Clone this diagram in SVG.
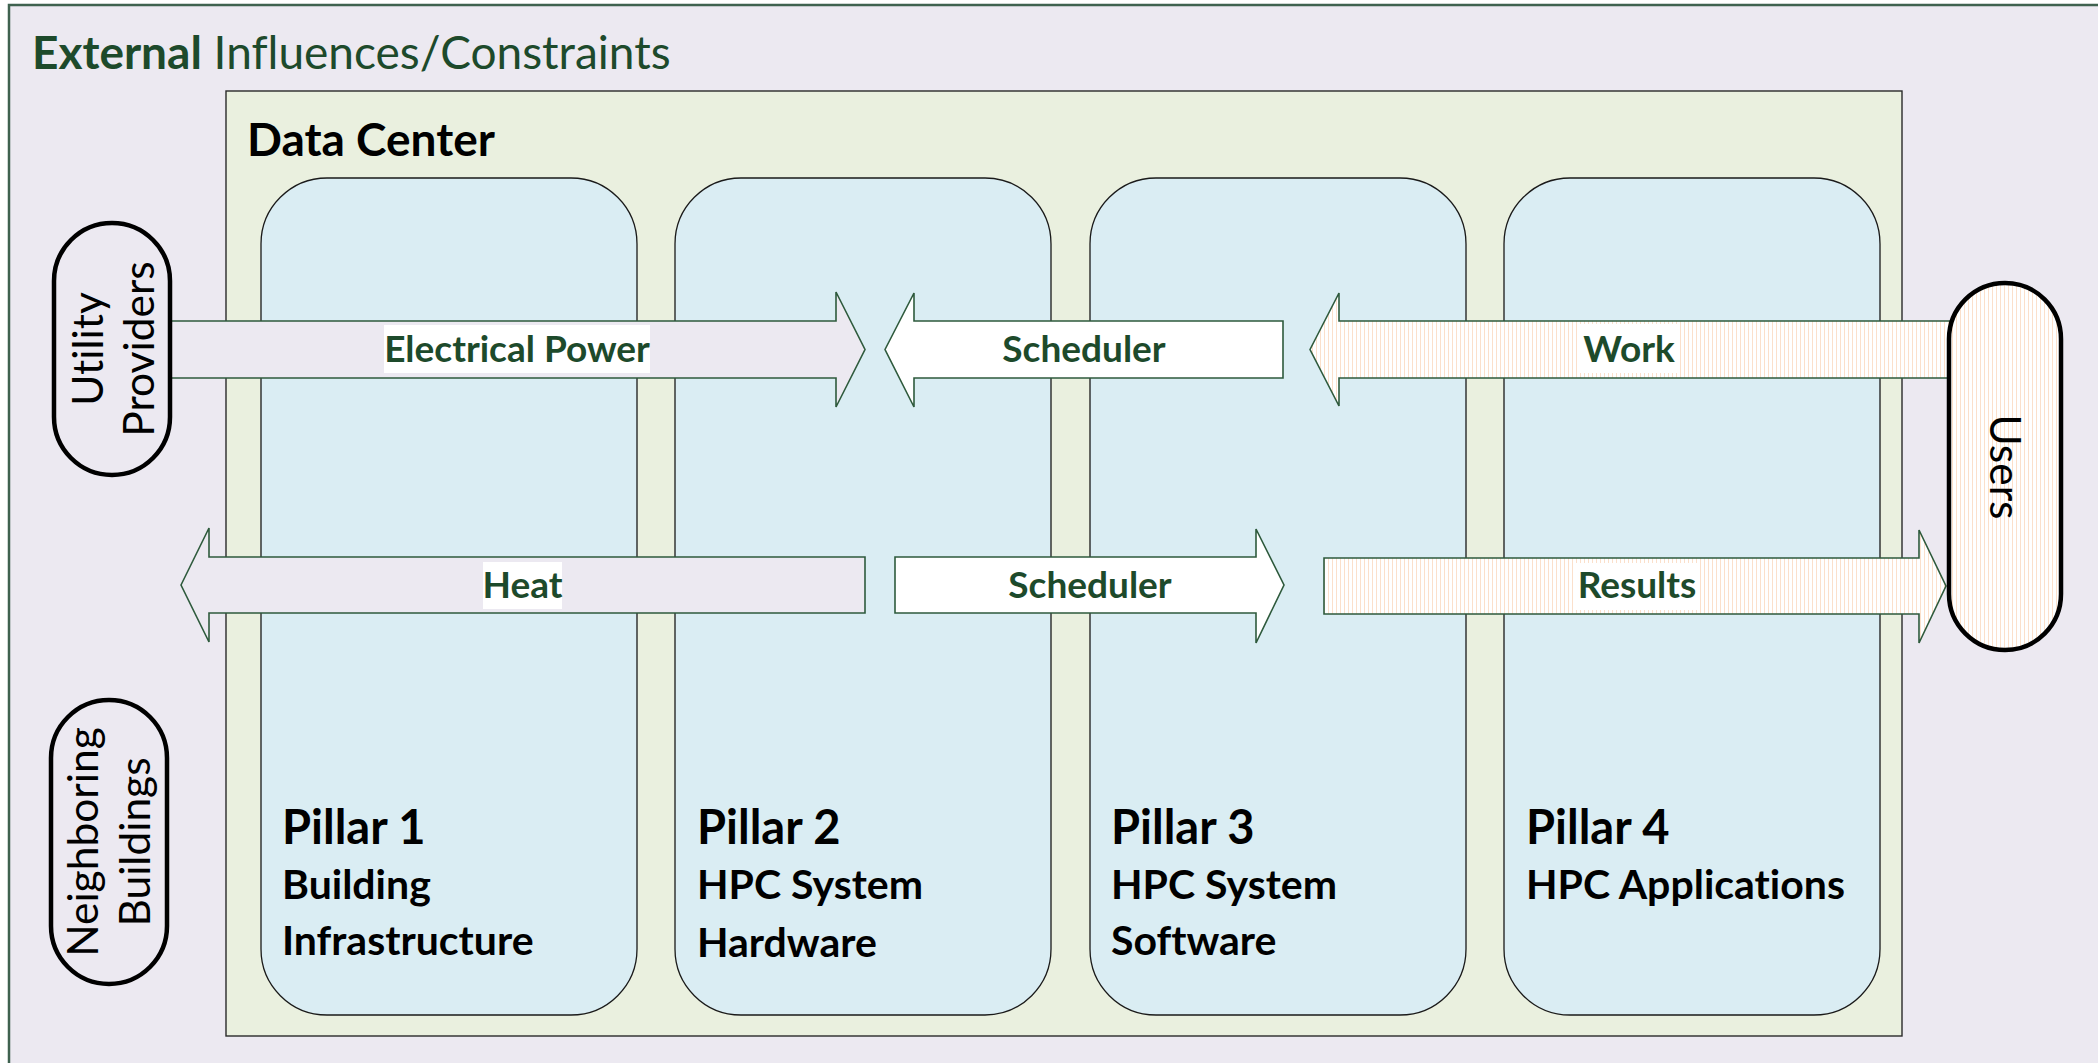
<svg xmlns="http://www.w3.org/2000/svg" width="2098" height="1063" viewBox="0 0 2098 1063">
  <defs>
    <pattern id="hatch" width="4" height="4" patternUnits="userSpaceOnUse">
      <rect width="4" height="4" fill="#ffffff"/>
      <rect x="0" y="0" width="1" height="4" fill="#FBE0CB"/>
    </pattern>
    <style>
      text { font-variant-ligatures: none; }
      .pillar { fill: #DAEDF3; stroke: #1a1a1a; stroke-width: 1.3; }
      .arrow { stroke: #2E5A3C; stroke-width: 1.6; stroke-linejoin: miter; }
      .lav { fill: #ECE9F1; }
      .white { fill: #ffffff; }
      .hatched { fill: url(#hatch); }
      .lbl { font-family: Lato, "Liberation Sans", sans-serif; font-weight: bold; font-size: 37px; fill: #1D4A2B; text-anchor: middle; }
      .ptitle { font-family: Lato, "Liberation Sans", sans-serif; font-weight: bold; font-size: 47px; fill: #000; }
      .psub { font-family: Lato, "Liberation Sans", sans-serif; font-weight: bold; font-size: 41px; fill: #000; }
      .pill { stroke: #000; stroke-width: 4.5; }
      .ptext { font-family: Lato, "Liberation Sans", sans-serif; font-size: 42.5px; fill: #000; text-anchor: middle; }
    </style>
  </defs>

  <rect x="0" y="0" width="2098" height="1063" fill="#ffffff"/>
  <g id="external">
    <rect x="9" y="5" width="2110" height="1080" fill="#ECE9F1" stroke="#3F624F" stroke-width="2.5"/>
    <text x="32" y="69" font-family="Lato, 'Liberation Sans', sans-serif" font-size="46" fill="#1D4A2B"><tspan font-weight="bold">External</tspan> Influences/Constraints</text>
  </g>

  <g id="data-center">
    <rect x="226" y="91" width="1676" height="945" fill="#EAF0DF" stroke="#2a2a2a" stroke-width="1.4"/>
    <text x="247" y="156" font-family="Lato, 'Liberation Sans', sans-serif" font-weight="bold" font-size="46" fill="#000">Data Center</text>
  </g>

  <g id="pillar-1">
    <rect class="pillar" x="261" y="178" width="376" height="837" rx="66" ry="66"/>
    <text class="ptitle" x="282" y="844">Pillar 1</text>
    <text class="psub" x="282" y="899">Building</text>
    <text class="psub" x="282" y="955">Infrastructure</text>
  </g>
  <g id="pillar-2">
    <rect class="pillar" x="675" y="178" width="376" height="837" rx="66" ry="66"/>
    <text class="ptitle" x="697" y="844">Pillar 2</text>
    <text class="psub" x="697" y="899">HPC System</text>
    <text class="psub" x="697" y="957">Hardware</text>
  </g>
  <g id="pillar-3">
    <rect class="pillar" x="1090" y="178" width="376" height="837" rx="66" ry="66"/>
    <text class="ptitle" x="1111" y="844">Pillar 3</text>
    <text class="psub" x="1111" y="899">HPC System</text>
    <text class="psub" x="1111" y="955">Software</text>
  </g>
  <g id="pillar-4">
    <rect class="pillar" x="1504" y="178" width="376" height="837" rx="66" ry="66"/>
    <text class="ptitle" x="1526" y="844">Pillar 4</text>
    <text class="psub" x="1526" y="899">HPC Applications</text>
  </g>

  <g id="connectors">
    <g id="electrical-power">
      <polygon class="arrow lav" points="170,321 836,321 836,292 865,349.5 836,407 836,378 170,378"/>
      <rect x="384" y="325" width="266" height="48" fill="#fff"/>
      <text class="lbl" x="517" y="362">Electrical Power</text>
    </g>
    <g id="scheduler-top">
      <polygon class="arrow white" points="885,349.5 914,293 914,321 1283,321 1283,378 914,378 914,407"/>
      <text class="lbl" x="1084" y="362">Scheduler</text>
    </g>
    <g id="work">
      <polygon class="arrow hatched" points="1310,349.5 1339,293 1339,321 1950,321 1950,378 1339,378 1339,406"/>
      <rect x="1580" y="324" width="97" height="49" fill="#fff"/>
      <text class="lbl" x="1629" y="362">Work</text>
    </g>
    <g id="heat">
      <polygon class="arrow lav" points="181,585 209,528 209,557 865,557 865,613 209,613 209,642"/>
      <rect x="483" y="562" width="79" height="47" fill="#fff"/>
      <text class="lbl" x="522.5" y="598">Heat</text>
    </g>
    <g id="scheduler-bottom">
      <polygon class="arrow white" points="895,557 1256,557 1256,529 1284,585 1256,643 1256,613 895,613"/>
      <text class="lbl" x="1090" y="598">Scheduler</text>
    </g>
    <g id="results">
      <polygon class="arrow hatched" points="1324,558 1919,558 1919,530 1946,586 1919,643 1919,614 1324,614"/>
      <rect x="1576" y="563" width="122" height="47" fill="#fff"/>
      <text class="lbl" x="1637" y="598">Results</text>
    </g>
  </g>

  <g id="utility-providers">
    <rect class="pill lav" x="54" y="223" width="116" height="252" rx="58" ry="58"/>
    <text class="ptext" transform="translate(103,349) rotate(-90)">Utility</text>
    <text class="ptext" transform="translate(154,349) rotate(-90)">Providers</text>
  </g>
  <g id="neighboring-buildings">
    <rect class="pill lav" x="51" y="700" width="116" height="284" rx="58" ry="58"/>
    <text class="ptext" transform="translate(98,842) rotate(-90)">Neighboring</text>
    <text class="ptext" transform="translate(150,842) rotate(-90)">Buildings</text>
  </g>
  <g id="users">
    <rect class="pill hatched" x="1949" y="283" width="112" height="367" rx="56" ry="56"/>
    <text class="ptext" transform="translate(1990,467) rotate(90)">Users</text>
  </g>
</svg>
